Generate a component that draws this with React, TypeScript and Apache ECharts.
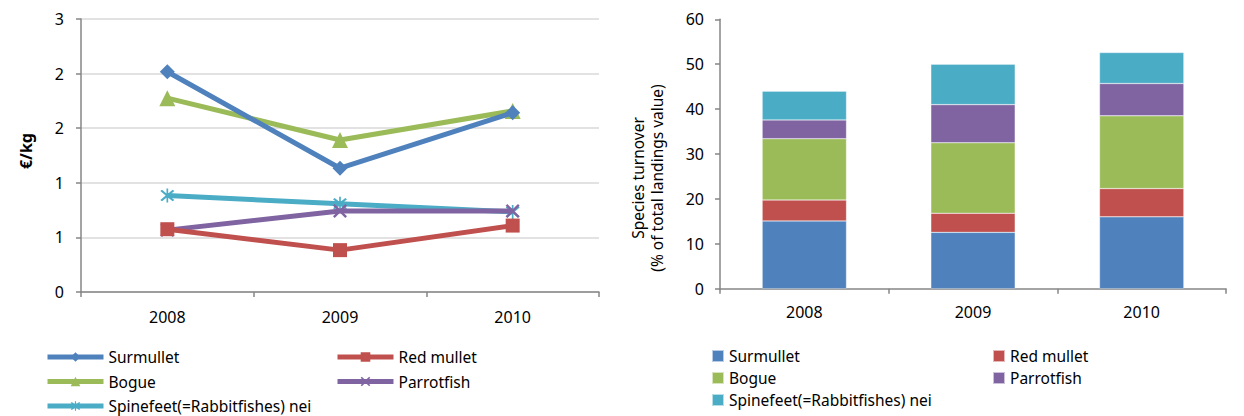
import React, { useEffect, useRef } from "react";
import * as echarts from "echarts";

const years = ["2008", "2009", "2010"];
const speciesNames = ["Surmullet", "Red mullet", "Bogue", "Parrotfish", "Spinefeet(=Rabbitfishes) nei"];
const colors = ["#4F81BD", "#C0504D", "#9BBB59", "#8064A2", "#4BACC6"];

// Left chart: price €/kg
const priceSurmullet = [2.42, 1.36, 1.97];
const priceRedMullet = [0.69, 0.46, 0.73];
const priceBogue = [2.13, 1.67, 1.99];
const priceParrotfish = [0.68, 0.89, 0.89];
const priceSpinefeet = [1.06, 0.97, 0.88];

// Right chart: species turnover (% of total landings value)
const shareSurmullet = [15.1, 12.55, 16.0];
const shareRedMullet = [4.65, 4.25, 6.3];
const shareBogue = [13.65, 15.7, 16.2];
const shareParrotfish = [4.2, 8.5, 7.2];
const shareSpinefeet = [6.4, 9.0, 6.9];

const leftTicks = { min: 0, max: 3, interval: 0.6 };
const rightTicks = { min: 0, max: 60, interval: 10 };

const leftAxisTitle = "€/kg";
const rightAxisTitle = "Species turnover\n(% of total landings value)";

const X_SYMBOL =
  "path://M1.2,0 L5,3.8 L8.8,0 L10,1.2 L6.2,5 L10,8.8 L8.8,10 L5,6.2 L1.2,10 L0,8.8 L3.8,5 L0,1.2 Z";
const STAR_SYMBOL =
  "path://M1.2,0 L5,3.8 L8.8,0 L10,1.2 L6.2,5 L10,8.8 L8.8,10 L5,6.2 L1.2,10 L0,8.8 L3.8,5 L0,1.2 Z M4.4,-1 L5.6,-1 L5.6,11 L4.4,11 Z";

const FONT = "'Noto Sans', 'Open Sans', sans-serif";

export default function App() {
  const ref = useRef<HTMLDivElement>(null);

  useEffect(() => {
    if (!ref.current) return;
    const chart = echarts.init(ref.current, undefined, { renderer: "svg" });

    const priceData = [priceSurmullet, priceRedMullet, priceBogue, priceParrotfish, priceSpinefeet];
    const shareData = [shareSurmullet, shareRedMullet, shareBogue, shareParrotfish, shareSpinefeet];
    const symbols = ["diamond", "rect", "triangle", X_SYMBOL, STAR_SYMBOL];
    const symbolSizes = [15, 14, 16, 14, 14];

    const lineSeries = speciesNames.map((name, i) => ({
      name,
      type: "line",
      xAxisIndex: 0,
      yAxisIndex: 0,
      data: priceData[i],
      symbol: symbols[i],
      symbolSize: symbolSizes[i],
      lineStyle: { color: colors[i], width: 5 },
      itemStyle: { color: colors[i] },
      z: 10 - i,
    }));

    const barSeries = speciesNames.map((name, i) => ({
      name: name + " ",
      type: "bar",
      stack: "share",
      xAxisIndex: 1,
      yAxisIndex: 1,
      data: shareData[i],
      barWidth: "50%",
      itemStyle: { color: colors[i], borderColor: "rgba(255,255,255,0.6)", borderWidth: 0.5 },
    }));

    const legendText = { fontFamily: FONT, fontSize: 15.5, color: "#000" };
    const lineLegendBase = {
      orient: "vertical",
      itemWidth: 56,
      itemHeight: 12,
      itemGap: 8.5,
      height: 100,
      lineStyle: { width: 5 },
      textStyle: legendText,
    };
    const barLegendBase = {
      orient: "vertical",
      itemWidth: 12,
      itemHeight: 12,
      itemGap: 6,
      height: 100,
      icon: "rect",
      textStyle: legendText,
      formatter: (n: string) => n.trim(),
    };

    const axisLabelBase = { color: "#000", fontSize: 16, fontFamily: FONT };
    const axisLineBase = { show: true, lineStyle: { color: "#868686", width: 1.5 } };
    const axisTickBase = { show: true, length: 5, lineStyle: { color: "#868686", width: 1.5 } };

    chart.setOption({
      animation: false,
      textStyle: { fontFamily: FONT },
      grid: [
        { left: 81, right: 645, top: 19, bottom: 124 },
        { left: 720, right: 18, top: 19.3, bottom: 127.3 },
      ],
      xAxis: [
        {
          type: "category",
          gridIndex: 0,
          data: years,
          boundaryGap: true,
          axisLine: axisLineBase,
          axisTick: axisTickBase,
          axisLabel: { ...axisLabelBase, margin: 17 },
        },
        {
          type: "category",
          gridIndex: 1,
          data: years,
          boundaryGap: true,
          axisLine: axisLineBase,
          axisTick: axisTickBase,
          axisLabel: { ...axisLabelBase, margin: 15 },
        },
      ],
      yAxis: [
        {
          type: "value",
          gridIndex: 0,
          min: leftTicks.min,
          max: leftTicks.max,
          interval: leftTicks.interval,
          axisLine: axisLineBase,
          axisTick: axisTickBase,
          axisLabel: {
            ...axisLabelBase,
            margin: 17,
            formatter: (v: number) => String(Math.round(v)),
          },
          splitLine: { lineStyle: { color: "#d9d9d9", width: 1.5 } },
        },
        {
          type: "value",
          gridIndex: 1,
          min: rightTicks.min,
          max: rightTicks.max,
          interval: rightTicks.interval,
          axisLine: axisLineBase,
          axisTick: axisTickBase,
          axisLabel: { ...axisLabelBase, margin: 16 },
          splitLine: { show: false },
        },
      ],
      graphic: [
        {
          type: "text",
          x: 26,
          y: 151,
          rotation: Math.PI / 2,
          style: {
            text: leftAxisTitle,
            font: `bold 16px ${FONT}`,
            fill: "#000",
            align: "center",
            verticalAlign: "middle",
          },
        },
        {
          type: "text",
          x: 647,
          y: 178,
          rotation: Math.PI / 2,
          style: {
            text: rightAxisTitle,
            font: `15.5px ${FONT}`,
            lineHeight: 19,
            fill: "#000",
            align: "center",
            verticalAlign: "middle",
          },
        },
      ],
      legend: [
        { ...lineLegendBase, left: 40, top: 344, data: [speciesNames[0], speciesNames[2], speciesNames[4]] },
        { ...lineLegendBase, left: 330, top: 344, data: [speciesNames[1], speciesNames[3]] },
        {
          ...barLegendBase,
          left: 706,
          top: 343,
          data: [speciesNames[0] + " ", speciesNames[2] + " ", speciesNames[4] + " "],
        },
        { ...barLegendBase, left: 987, top: 343, data: [speciesNames[1] + " ", speciesNames[3] + " "] },
      ],
      series: [...lineSeries, ...barSeries],
    });

    return () => chart.dispose();
  }, []);

  return (
    <div
      ref={ref}
      style={{ position: "absolute", left: 0, top: 0, width: 1244, height: 416, background: "#fff" }}
    />
  );
}
